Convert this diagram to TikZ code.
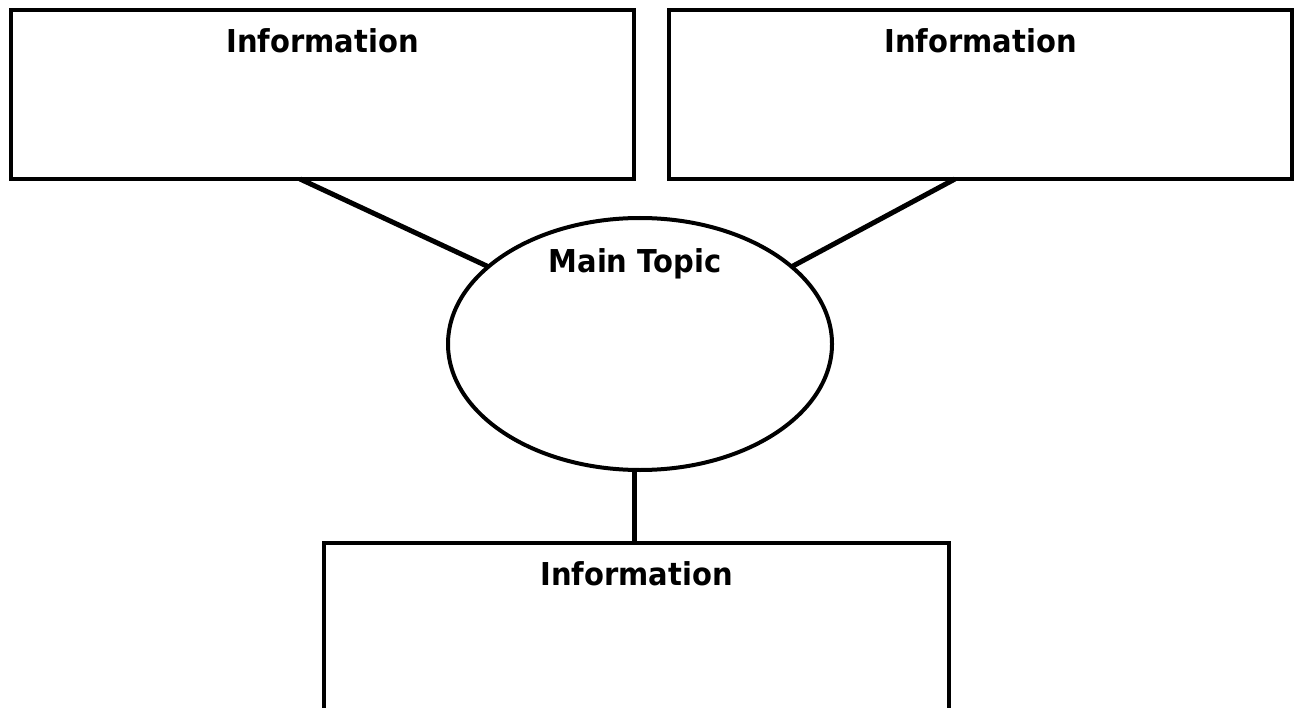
\documentclass[tikz,border=0pt]{standalone}
\usepackage{fontspec}
\newfontfamily\tah{DejaVu Sans Bold}[FakeStretch=0.92]
\usetikzlibrary{shapes.geometric}
\begin{document}
\begin{tikzpicture}[x=1pt,y=-1pt,
  infobox/.style={draw,line width=4.2pt,rectangle,inner sep=0pt,outer sep=0pt,anchor=north west},
  topic/.style={draw,line width=4pt,ellipse,inner sep=0pt,outer sep=0pt,minimum width=384pt,minimum height=252pt},
  lbl/.style={font=\tah\fontsize{31.5}{36}\selectfont,anchor=base,inner sep=0pt},
  link/.style={line width=5pt}]
\useasboundingbox (0,0) rectangle (1297,708);
\clip (0,0) rectangle (1297,708);
\node[infobox,minimum width=623pt,minimum height=169pt] (tl) at (11,10) {};
\node[infobox,minimum width=623pt,minimum height=169pt] (tr) at (669,10) {};
\node[infobox,minimum width=625pt,minimum height=200pt] (bt) at (324,543) {};
\node[topic] (ell) at (640,344) {};
\node[lbl] (ttl) at ([yshift=-43pt]tl.north) {Information};
\node[lbl] (ttr) at ([yshift=-43pt]tr.north) {Information};
\node[lbl] (tbt) at ([yshift=-42pt]bt.north) {Information};
\node[lbl] (tmain) at ([xshift=-5pt,yshift=71pt]ell.center) {Main Topic};
\draw[link] ([xshift=289pt]tl.south west) -- (ell.153);
\draw[link] ([xshift=-337pt]tr.south east) -- (ell.27);
\draw[link,line width=4.2pt] ([xshift=-2pt]bt.north) -- ([xshift=-2pt]bt.north |- ell.south);
\end{tikzpicture}
\end{document}
